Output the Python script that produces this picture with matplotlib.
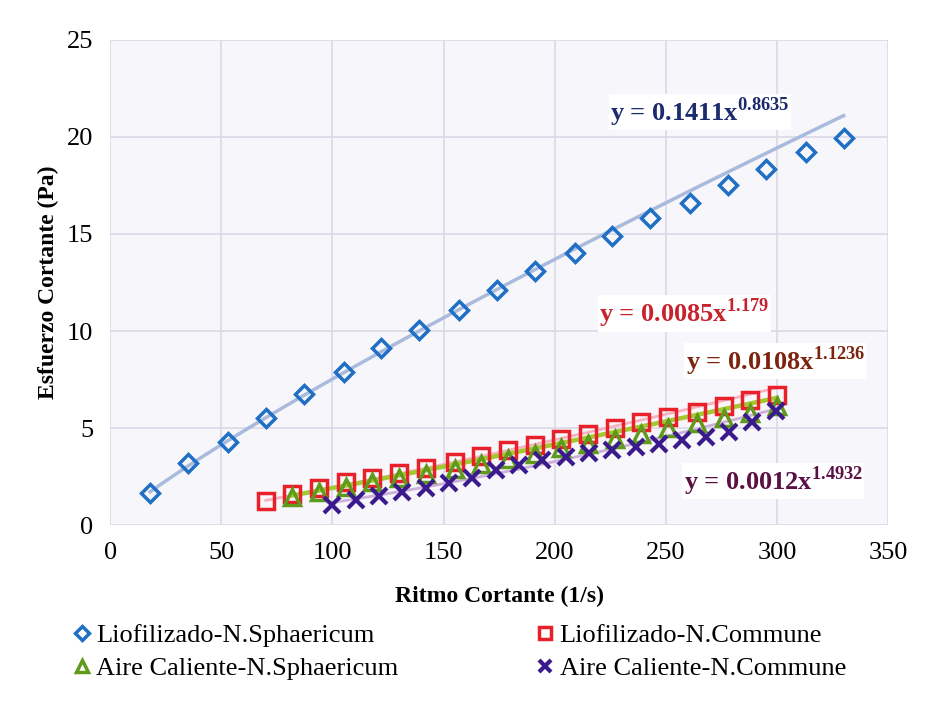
import numpy as np
import matplotlib

matplotlib.use("Agg")

import matplotlib.pyplot as plt

# datos
x_lio_sph = [18, 35, 53, 70, 87, 105, 122, 139, 157, 174, 191, 209, 226, 243, 261, 278, 295, 313, 330]
y_lio_sph = [1.65, 3.2, 4.3, 5.5, 6.75, 7.9, 9.1, 10.05, 11.1, 12.1, 13.1, 14.0, 14.9, 15.8, 16.6, 17.5, 18.35, 19.2, 19.95]

x_lio_com = [70, 82, 94, 106, 118, 130, 142, 155, 167, 179, 191, 203, 215, 227, 239, 251, 264, 276, 288, 300]
y_lio_com = [1.25, 1.6, 1.9, 2.2, 2.45, 2.7, 2.95, 3.25, 3.55, 3.85, 4.15, 4.45, 4.7, 5.0, 5.3, 5.55, 5.85, 6.15, 6.45, 6.7]

x_aire_sph = [82, 94, 106, 118, 130, 142, 155, 167, 179, 191, 203, 215, 227, 239, 251, 264, 276, 288, 300]
y_aire_sph = [1.45, 1.7, 1.95, 2.2, 2.45, 2.65, 2.9, 3.15, 3.4, 3.65, 3.95, 4.2, 4.45, 4.7, 5.0, 5.25, 5.5, 5.8, 6.15]

x_aire_com = [100, 110.5, 121, 131.5, 142, 152.5, 163, 173.5, 184, 194.5, 205, 215.5, 226, 236.5, 247, 257.5, 268, 278.5, 289, 299.5]
y_aire_com = [1.05, 1.3, 1.5, 1.7, 1.9, 2.15, 2.45, 2.85, 3.1, 3.35, 3.5, 3.7, 3.85, 4.0, 4.2, 4.4, 4.55, 4.8, 5.3, 5.9]

labels = ["Liofilizado-N.Sphaericum", "Liofilizado-N.Commune",
          "Aire Caliente-N.Sphaericum", "Aire Caliente-N.Commune"]

# ajustes potenciales y = a x^b
fits = [(0.1411, 0.8635), (0.0085, 1.179), (0.0108, 1.1236), (0.0012, 1.4932)]
fit_texts = ["0.1411", "0.0085", "0.0108", "0.0012"]
fit_exps = ["0.8635", "1.179", "1.1236", "1.4932"]

plt.rcParams["font.family"] = ["Liberation Serif", "DejaVu Serif"]
plt.rcParams["mathtext.fontset"] = "custom"
plt.rcParams["mathtext.rm"] = "Liberation Serif"
plt.rcParams["mathtext.bf"] = "Liberation Serif:bold"

fig = plt.figure(figsize=(9.26, 7.01), dpi=100)
ax = fig.add_axes([0.119, 0.251, 0.84, 0.692])
ax.set_facecolor("#f7f6fa")

series = [
    (x_lio_sph, y_lio_sph, "D", "#1f6fc4", "#a9bbdc", 2.5, 9),
    (x_lio_com, y_lio_com, "s", "#e8202a", "#f5b3c0", 2.0, 12),
    (x_aire_sph, y_aire_sph, "^", "#5f9a1c", "#a2c832", 3.2, 11),
    (x_aire_com, y_aire_com, "x", "#3a1a8c", "#cdb0dc", 2.0, 11),
]

handles = []
for (xs, ys, mk, col, fcol, flw, ms), (a, b), lab in zip(series, fits, labels):
    xf = np.linspace(min(xs), max(xs), 100)
    ax.plot(xf, a * xf ** b, color=fcol, lw=flw, zorder=2)
    if mk == "x":
        h, = ax.plot(xs, ys, linestyle="none", marker=mk, color=col, ms=ms, mew=3,
                     label=lab, zorder=3)
    else:
        h, = ax.plot(xs, ys, linestyle="none", marker=mk, mfc="none", mec=col,
                     ms=ms, mew=2.5, label=lab, zorder=3)
    handles.append(h)

# etiquetas de las ecuaciones
txt_pos = [(225, 21.3, "#1c2a6e"), (220, 10.9, "#c8232d"),
           (259, 8.45, "#7c2410"), (258, 2.27, "#5a1045")]
for (tx, ty, tc), c, e in zip(txt_pos, fit_texts, fit_exps):
    ax.text(tx, ty, "y = " + c + "x" + r"$^{\mathbf{" + e + r"}}$", color=tc,
            fontsize=19, fontweight="bold", va="center", ha="left", zorder=4,
            bbox=dict(facecolor="white", edgecolor="none", pad=1.0))

ax.set_xlim(0, 350)
ax.set_ylim(0, 25)
ax.set_xticks(range(0, 351, 50))
ax.set_yticks(range(0, 26, 5))
ax.grid(True, color="#dcd8e8", lw=1.2)
ax.set_axisbelow(True)
for s in ax.spines.values():
    s.set_visible(False)
ax.tick_params(length=0, labelsize=19, pad=12)

ax.set_xlabel("Ritmo Cortante (1/s)", fontsize=17, fontweight="bold", labelpad=16)
ax.set_ylabel("Esfuerzo Cortante (Pa)", fontsize=17, fontweight="bold", labelpad=6)

# orden por filas como en el original
order = [0, 2, 1, 3]
leg = fig.legend([handles[i] for i in order], [labels[i] for i in order],
                 loc="upper left", bbox_to_anchor=(0.07, 0.125), ncol=2,
                 frameon=False, fontsize=19, handlelength=0.5, handletextpad=0.3,
                 columnspacing=5.3, labelspacing=0.35, borderaxespad=0,
                 markerscale=0.75)

fig.savefig("out.png", dpi=100)
plt.close(fig)
